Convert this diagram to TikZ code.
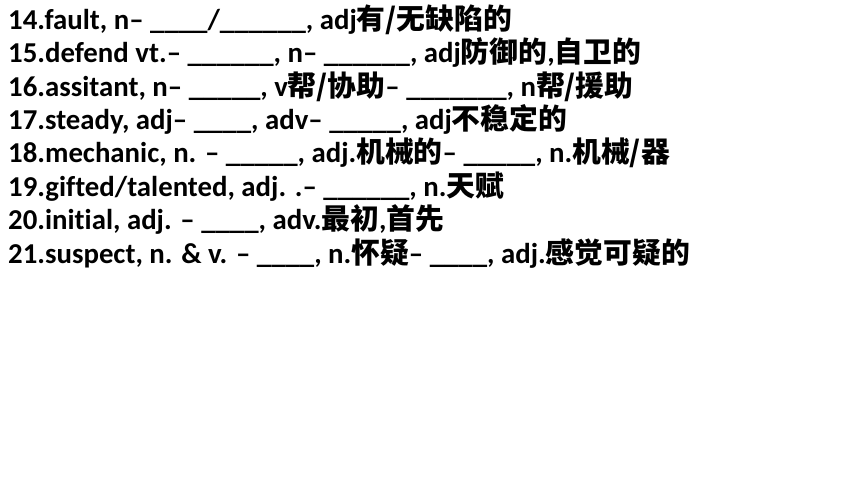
\documentclass[tikz,border=0pt]{standalone}
\usepackage{fontspec}
\setmainfont{Carlito}[Ligatures=NoCommon]
\newfontfamily\cjk{Noto Sans CJK SC}
\newcommand{\C}[1]{{\cjk\bfseries #1}}
\newcommand{\U}[1]{\foreach \i in {1,...,#1}{\_}}
\begin{document}
\begin{tikzpicture}[x=1pt,y=-1pt,
  line/.style={anchor=base west,inner sep=0pt,font=\fontsize{28.8}{34}\selectfont\bfseries}]
\useasboundingbox[fill=white] (0,0) rectangle (860,484);
\node[line] (l14) at (8,29.3) {14.fault, n– \_\_\_\_/\_\_\_\_\_\_, adj\C{有/无缺陷的}};
\node[line] (l15) at (8,62.7) {15.defend vt.– \_\_\_\_\_\_, n– \_\_\_\_\_\_, adj\C{防御的},\C{自卫的}};
\node[line] (l16) at (8,96.1) {16.assitant, n– \_\_\_\_\_, v\C{帮/协助}– \_\_\_\_\_\_\_, n\C{帮/援助}};
\node[line] (l17) at (8,129.6) {17.steady, adj– \_\_\_\_, adv– \_\_\_\_\_, adj\C{不稳定的}};
\node[line] (l18) at (8,163.0) {18.mechanic, n. – \_\_\_\_\_, adj.\C{机械的}– \_\_\_\_\_, n.\C{机械/器}};
\node[line] (l19) at (8,196.4) {19.gifted/talented, adj. .– \_\_\_\_\_\_, n.\C{天赋}};
\node[line] (l20) at (8,229.9) {20.initial, adj. – \_\_\_\_, adv.\C{最初},\C{首先}};
\node[line] (l21) at (8,263.3) {21.suspect, n. \& v. – \_\_\_\_, n.\C{怀疑}– \_\_\_\_, adj.\C{感觉可疑的}};
\end{tikzpicture}
\end{document}
